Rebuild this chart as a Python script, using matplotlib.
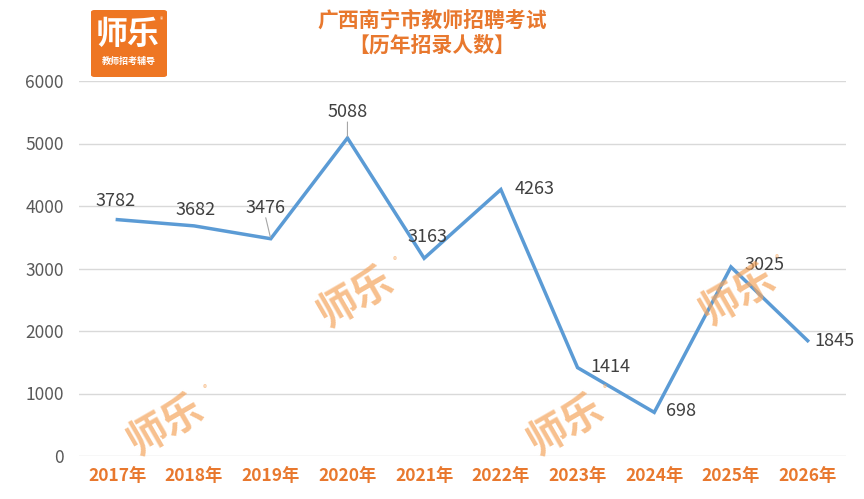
import matplotlib
matplotlib.use("Agg")
import matplotlib.pyplot as plt
from matplotlib.patches import FancyBboxPatch

plt.rcParams['font.family'] = ['Noto Sans CJK SC', 'DejaVu Sans']

# 数据
years = ['2017年', '2018年', '2019年', '2020年', '2021年',
         '2022年', '2023年', '2024年', '2025年', '2026年']
counts = [3782, 3682, 3476, 5088, 3163, 4263, 1414, 698, 3025, 1845]
yticks = [0, 1000, 2000, 3000, 4000, 5000, 6000]

# 标签偏移(像素)
label_off = [(-2, 19), (2, 16), (-5, 31), (0, 26), (3, 21),
             (34, 1), (33, 1), (27, 1), (34, 2), (27, 0)]
leader = [False, False, True, True, False, False, False, False, False, False]

orange = '#EE7623'
fig = plt.figure(figsize=(8.64, 4.99), dpi=100)
ax = fig.add_axes([79/864, 43/499, 767/864, 375/499])

x = list(range(len(years)))
ax.plot(x, counts, color='#5B9BD5', lw=2.5, zorder=3, solid_joinstyle='miter')

ax.set_xlim(-0.5, len(years) - 0.5)
ax.set_ylim(0, 6000)
ax.set_yticks(yticks)
ax.set_xticks(x)
ax.set_xticklabels(years, color='#E8782E', fontsize=12.5, fontweight='bold')
ax.tick_params(axis='y', colors='#595959', labelsize=12.5, length=0, pad=11)
ax.tick_params(axis='x', length=0, pad=8)
ax.grid(axis='y', color='#D9D9D9', lw=1)
ax.set_axisbelow(True)
for s in ax.spines.values():
    s.set_visible(False)

for i, v in enumerate(counts):
    dx, dy = label_off[i]
    ax.annotate(str(v), (i, v), xytext=(dx, dy), textcoords='offset pixels',
                ha='center', va='center', fontsize=13, color='#404040', zorder=5)
    if leader[i]:
        ax.annotate('', (i, v), xytext=(dx, dy - 10), textcoords='offset pixels',
                    arrowprops=dict(arrowstyle='-', color='#A6A6A6', lw=0.8,
                                    shrinkA=0, shrinkB=1))

# 水印
for wx, wy in [(355, 297), (165, 425), (565, 425), (737, 295)]:
    fig.text(wx/864, 1 - wy/499, '师乐', fontsize=29, fontweight='bold',
             color='#F4A55E', alpha=0.7, rotation=30, ha='center', va='center',
             zorder=10)
    fig.text((wx + 40)/864, 1 - (wy - 36)/499, '®', fontsize=6,
             color='#F4A55E', alpha=0.7, ha='center', va='center', zorder=10)

# 标题
fig.text(0.5, 1 - 20/499, '广西南宁市教师招聘考试', ha='center', va='center',
         fontsize=15, fontweight='bold', color='#E8782E')
fig.text(0.5, 1 - 45/499, '【历年招录人数】', ha='center', va='center',
         fontsize=15, fontweight='bold', color='#E8782E')

# logo
box = FancyBboxPatch((91/864, 1 - 77/499), 76/864, 67/499,
                     boxstyle='round,pad=0,rounding_size=0.004',
                     transform=fig.transFigure, facecolor=orange,
                     edgecolor='none', zorder=20)
fig.patches.append(box)
fig.text(128/864, 1 - 35/499, '师乐', ha='center', va='center', fontsize=23,
         fontweight='bold', color='white', zorder=21)
fig.text(161/864, 1 - 20/499, '®', ha='center', va='center', fontsize=5,
         color='white', zorder=21)
fig.text(129/864, 1 - 61/499, '教师招考辅导', ha='center', va='center',
         fontsize=6.5, fontweight='bold', color='white', zorder=21)

fig.savefig('out.png', dpi=100)
